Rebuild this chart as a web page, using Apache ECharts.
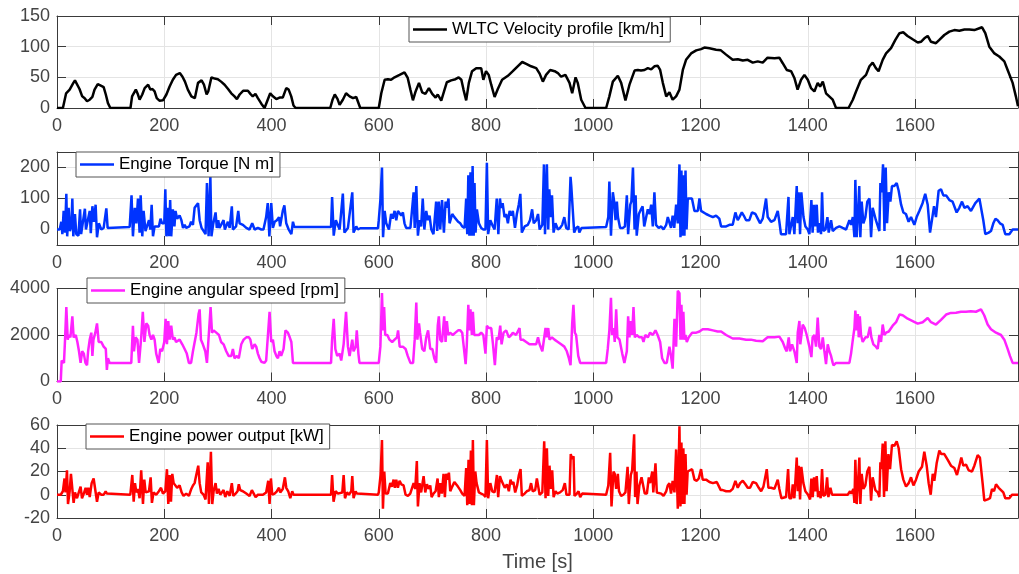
<!DOCTYPE html>
<html>
<head>
<meta charset="utf-8">
<title>WLTC engine signals</title>
<script src="https://cdn.jsdelivr.net/npm/echarts@6/dist/echarts.min.js"></script>
<style>
html,body{margin:0;padding:0;background:#fff;}
#main{width:1019px;height:574px;}
</style>
</head>
<body>
<div id="main"></div>
<script>
// time axis
var tMax = 1792;
var xTicks = [0,200,400,600,800,1000,1200,1400,1600];

// y ticks per panel
var velTicks = [0,50,100,150];
var torTicks = [0,100,200];
var rpmTicks = [0,2000,4000];
var powTicks = [-20,0,20,40,60];

// [t (s), value]
var velocity = [
[0,0],[11,0],[17,24],[23.6,30],[30,40],[33.5,45],[37,43],[42,31],[47,19],[51.6,16],[56,11],[61,13.5],[66,18],[70,30],[76,39],[82.6,36],[87,34],[91,22],[95,8],[99.4,0],
[137,0],[140,19],[147,30],[151,22],[154,13.5],[159,22],[163.5,32.5],[170,38],[174,30],[178,31],[182,27],[186,16],[191,12],[197.6,12.5],[204,22],[210,35],[216,46],[222,54],[229,57],[234,51],[238.6,43],[244,30],[250.6,19],[257,16],[263,41],[269.6,45],[274,38],[279,22],[282,27],[288,50],[294,48],[300,47],[306,43],[312.5,38],[319,31],[325,24],[331,19],[335.5,14.6],[340.5,22],[347,28],[356,28],[360.6,23],[365,19],[370,23],[374.6,16],[381,7],[387,0],[390,2.7],[397.6,24],[402.6,19],[409,14.6],[415,17],[421,17],[427.5,32.5],[432,30],[436.8,19],[441,4],[445,0],
[509.5,0],[514,14],[518,22],[523,15],[527,5],[533,13.5],[539,24],[545.6,19],[552,16],[558,18],[561,16],[565.5,0],
[600,0],[604.7,24],[611,46],[617,47],[623,46],[629.5,50],[638.8,54],[648,58],[654,49],[659,30],[663.7,12.5],[668.7,27],[675,41],[681,25.5],[687,23],[693.5,32.5],[699.7,23],[706,17],[710,22],[716.5,12],[722.7,30],[727,42],[735,45],[743,47],[749,50],[754,46],[758,30],[763,12.5],[768,41],[774,60],[781.7,65],[791,65],[795,46],[800,60],[805,54],[809.7,38],[816,18],[822,31],[830,46],[840.8,52.5],[850,60],[859,68],[867.5,75],[875,72],[884,68],[893.6,65],[900,56],[906,43],[912,54],[919.7,62],[928,60],[934,57],[940,51],[948,54],[955.7,41],[960.7,24],[967,50],[971,41],[977.5,13.5],[985.5,0],
[1024,0],[1030,19],[1036.5,43],[1045.8,52.5],[1052,41],[1060,12.5],[1067.5,38],[1077,61],[1083,62],[1089,61],[1095.5,62],[1101.7,65],[1108,63],[1114,68],[1120,69],[1124.7,62],[1129.7,41],[1136,19],[1142,25.5],[1148,13.5],[1154.5,19],[1160.7,30],[1167,62],[1173,78.5],[1182.4,89],[1192,94],[1201,96],[1207.3,98.5],[1216.6,97.5],[1229,95],[1238,94],[1247.7,87],[1260,78.5],[1269.4,79.6],[1278.8,77.4],[1288,78.5],[1297.4,74],[1306.7,76],[1316,74],[1325,82],[1338,81],[1347,82],[1353.3,73],[1360.7,62],[1369,60],[1375,49],[1381,30],[1387.5,46],[1393.7,54],[1400,46],[1406,32.5],[1412.3,27],[1418.5,41],[1423,35],[1428,43],[1434,24],[1440,19],[1446.5,13.5],[1452.7,0],
[1476,0],[1484,13.5],[1490,27],[1499,46],[1508.6,54],[1515,68],[1521,74],[1527,65],[1532,60],[1539.7,78.5],[1546,89],[1555.2,97.5],[1563.3,111],[1571,122],[1578,123.5],[1586,117.5],[1595.6,112],[1605,106.7],[1611,108],[1617.4,113.7],[1623.6,117.5],[1629.8,108],[1639,105.6],[1645.3,111],[1654.6,119],[1664,124.5],[1673.3,127],[1682.6,126],[1692,128],[1701.3,128],[1710.6,127],[1720,130],[1725,131.6],[1731,122],[1738.5,100],[1748,89],[1757,84],[1766.5,76],[1772.7,62],[1782,41],[1788,19],[1792,3]
];

var torque = [
[0,0],[5,0],[8,25],[10,-15],[12.4,60],[15,-10],[17.4,115],[19,-22],[21.7,70],[24,-5],[26.7,10],[28.6,100],[30.4,-22],[33.5,50],[36,-15],[40,-20],[43,65],[45,-15],[48.5,-12],[52,67],[54,0],[57,5],[61,60],[63,-12],[66,75],[69,25],[72,80],[74.6,-25],[78,20],[82.6,0],[87,5],[92,68],[94.4,5],[98,8],
[135.5,8],[139,110],[141.6,-22],[145,70],[148,20],[151,100],[154,-10],[156,110],[159,-22],[161.5,60],[165,-5],[168,0],[171.5,30],[174,0],[176.5,80],[179,-22],[182,10],[185,5],[190,10],[193,35],[196,20],[200,20],[202,130],[204,-22],[207,70],[209,-22],[211,95],[213,-22],[216,65],[219,10],[221,60],[224,35],[228.6,45],[232,30],[235,5],[238,15],[241,5],[247,10],[250,25],[253.5,15],[256.6,70],[260,75],[263,85],[266,30],[269.6,5],[273,0],[277,-15],[279.6,150],[282.7,-22],[286,170],[288,-22],[291,15],[295.7,55],[298,5],[300.7,30],[303,5],[306,15],[310.6,30],[313,0],[315.6,5],[318.7,25],[322,5],[326,75],[328,0],[334,10],[338,60],[340.5,20],[346.7,15],[353,5],[359,0],[364,20],[368.5,0],[374.6,5],[381,0],[385,0],[390,40],[393,85],[396,-22],[399.5,85],[402.6,5],[406,25],[410,30],[414,40],[416,10],[421,60],[424,78],[427.5,20],[432,0],[437,-15],[440,25],[442.5,8],
[511,8],[513,105],[516,-20],[520,30],[527,0],[533,116],[536,-10],[542.5,5],[550.6,120],[553,-10],[558,10],[561,0],[565.5,4],
[598.5,4],[600,30],[603,95],[606,200],[608,-25],[611,60],[614,20],[619,0],[623,50],[626,35],[629.5,60],[632.6,30],[635.7,60],[639,65],[642,45],[645,55],[648,20],[651,5],[654,0],[659,5],[662,0],[665,120],[667,5],[670,140],[673,-20],[676,30],[679,10],[682,100],[685,0],[688.5,60],[691.6,30],[694.7,45],[698,0],[702,-15],[707,90],[709,-5],[712,90],[714.6,0],[718,95],[721.5,-10],[724.6,90],[727,70],[730,100],[732,20],[737,50],[741,40],[744.5,45],[748,25],[752,20],[755.6,10],[760,5],[763,100],[765,-15],[767,175],[769,-20],[771,185],[773,-20],[775,205],[777,-20],[778.6,150],[780.5,-10],[783,65],[786.7,20],[791,5],[795,0],[799,0],[801.6,215],[804,-15],[808,30],[813,10],[816,0],[820,100],[823,-15],[826,100],[828,70],[831,85],[834.5,40],[837.6,50],[840.8,20],[844,60],[847,45],[850,60],[854,5],[857.5,50],[861,80],[864,115],[866.8,-10],[872,10],[878,15],[882,30],[886,65],[889,20],[893.6,30],[897,50],[900,0],[905,15],[908,210],[910,-15],[913.5,210],[916,0],[918,130],[921,40],[923,110],[926,-10],[929.6,20],[934,0],[938,5],[942,15],[946,40],[949.5,5],[954,0],[957.6,170],[959,140],[962,145],[964.4,-10],[968,5],[972,10],[974,-10],[978,5],[980,8],
[1024,8],[1028,40],[1030,155],[1033,-20],[1036.5,120],[1039,90],[1041.5,30],[1044,90],[1046,40],[1050,5],[1055,5],[1059,10],[1062.6,110],[1065,-15],[1069,80],[1071,90],[1074,200],[1077,0],[1079,110],[1081,-20],[1085,50],[1089,65],[1092,75],[1095,10],[1098.6,5],[1101.7,65],[1105,50],[1108,80],[1111,10],[1114,120],[1117,15],[1122,5],[1126.6,10],[1131,0],[1136,15],[1139,40],[1142,35],[1145,5],[1148,45],[1151,5],[1154.5,80],[1157.6,20],
[1160.7,210],[1162.6,-25],[1164.4,190],[1166.3,-20],[1168,175],[1170,-20],[1172,190],[1174,0],[1176.2,100],[1179.3,105],[1184,100],[1188.7,60],[1192,55],[1195,60],[1198,100],[1201,60],[1204,55],[1210.4,50],[1216.6,45],[1223,40],[1229,45],[1232,40],[1235,35],[1238.4,10],[1241.5,15],[1247.7,10],[1254,15],[1260,15],[1265,55],[1269.4,30],[1272.5,40],[1277,55],[1280.6,45],[1285,30],[1291,30],[1296,55],[1302.4,50],[1306.7,35],[1311,20],[1316,35],[1319,40],[1322.2,100],[1325.3,40],[1331.5,25],[1337.8,30],[1344,60],[1347,25],[1350,-15],[1359.5,-15],[1364,105],[1365.7,-15],[1369,-15],[1372,40],[1375,-15],[1379.4,140],[1381.3,20],[1383,120],[1385.6,-15],[1388,120],[1392,40],[1395.6,10],[1400,0],[1403,-15],[1406.7,95],[1409,-10],[1411.7,80],[1414,10],[1416.7,80],[1419,-10],[1421.6,20],[1424.7,-15],[1426.6,120],[1429,-5],[1433,0],[1436.6,40],[1439,-10],[1443.4,30],[1446.5,-5],[1452.7,5],[1459,10],[1465,5],[1471.4,0],[1477.6,30],[1480.7,15],[1484,40],[1487,-25],[1488.7,160],[1491.2,-25],[1493.7,50],[1496,140],[1498,-25],[1500.5,90],[1503.7,20],[1507.4,40],[1511,90],[1515,100],[1518,-25],[1521,70],[1527,30],[1533.5,-5],[1535.4,150],[1538,120],[1540.3,210],[1543,-5],[1545.3,200],[1547.8,20],[1551,120],[1554,90],[1557,140],[1561.4,140],[1565.8,150],[1569.5,125],[1574,80],[1578.2,55],[1583,50],[1588,25],[1592.5,40],[1598.7,15],[1603,40],[1608,60],[1614,85],[1619,115],[1623.6,80],[1628,-10],[1631.7,-15],[1635.4,75],[1639,40],[1644,125],[1648.4,130],[1652.8,110],[1658,110],[1664,95],[1670,90],[1677.6,55],[1682.6,70],[1687.6,90],[1692,70],[1698,75],[1704.3,60],[1712.4,85],[1720,100],[1723.6,95],[1727.3,30],[1731,-15],[1737.3,-10],[1741.6,-5],[1746,20],[1750,35],[1754,30],[1758.4,20],[1763.4,15],[1768.3,-15],[1775.8,-15],[1779,-10],[1782,0],[1792,0]
];

var speed = [
[0,0],[7,0],[8.7,900],[11,900],[13,800],[15,1800],[17.4,3200],[20,1800],[22,2000],[25,1900],[28.6,2800],[31,1900],[35,2000],[38,1700],[41,1300],[44,800],[47,1300],[50,1200],[53,800],[56,700],[58,1300],[61,1800],[64,2100],[66,1100],[68,1800],[71.5,2100],[74.6,2500],[77.7,1700],[82.6,1700],[87,1500],[91,1400],[93,500],[95,1000],[98,800],
[138.5,800],[141.6,2400],[143.5,1300],[146.6,1900],[150,1800],[153,800],[157,1900],[160,3000],[163,1700],[166.5,2500],[170,2400],[172.7,2000],[176,1800],[179,2000],[182,1800],[185,1200],[189.5,800],[192.6,1400],[196,1300],[200,1700],[202.5,2700],[205,1600],[207.5,2600],[210,1800],[213,2400],[216,1800],[219,1900],[222,1700],[228.6,1800],[233.6,1600],[238,1400],[242,1200],[246,800],[250,800],[253.5,1300],[260,2100],[264,2900],[266,3100],[268.4,1800],[272,1600],[276.5,1300],[279.6,800],[283,2000],[286.4,3200],[289,2100],[292,2200],[297,2100],[302,2000],[306,1700],[310.6,1600],[315.6,1300],[320,1100],[325,1100],[328,1400],[331,1000],[335.5,1100],[339,1000],[343.6,1600],[348,1800],[353,1900],[358,1900],[360.6,1800],[364,1400],[368.5,1600],[371.5,1500],[374.6,1200],[377.8,1000],[381,850],[387,800],[390,900],[396.4,3000],[399.5,1700],[402.6,1800],[405.7,1300],[409,1100],[412,1000],[415,1300],[418,1100],[422.5,1400],[426,2200],[430.6,2100],[434,1900],[437,1700],[440,800],
[511,800],[513,1800],[516,2700],[519,1400],[522.5,1100],[527,1200],[530,900],[534.5,1600],[539,3000],[542.5,1500],[545.6,1100],[550.6,1800],[553,1300],[557,1500],[559,2200],[562,1200],[564,800],
[600,800],[603,1500],[606,3800],[608,2200],[610,3200],[612,2000],[616,2000],[620,1800],[625,1700],[629.5,1800],[634,1900],[636,2200],[639,1500],[645,1500],[650,1400],[654,1100],[659,800],[664,800],[667,1800],[670,3400],[672,1800],[675,2500],[677,2100],[681,1400],[685,1300],[688.5,1900],[692,2200],[696,1400],[700,1400],[703.5,1000],[707,800],[710,2400],[712,2800],[714.6,1800],[718,1700],[722,2800],[724.6,1700],[727,2600],[729.5,2000],[733,2100],[738,2000],[743,2100],[748,2200],[752,2200],[755.6,2100],[758,1600],[762,750],[764,1500],[767,3300],[769,2200],[771,3100],[773.6,2000],[775.5,3000],[778,2000],[781.7,2000],[786.7,2000],[791,2100],[795,2000],[799,1200],[801.6,2400],[805,2300],[809.7,2300],[813,1600],[816.5,700],[820,1900],[823.4,1800],[826.5,2400],[829,1600],[832.7,2100],[837.6,2200],[842.6,1900],[847,2000],[850,2100],[856,2000],[862.5,2300],[864.4,1800],[868.7,1800],[875,1700],[881,1600],[887,1600],[893.6,1600],[897,1900],[900,1600],[905,1300],[907,1300],[911,2300],[913.5,1900],[916,2300],[918.4,1800],[923,1900],[927.7,1800],[934,1700],[940,1600],[946,1500],[950.7,1300],[954.5,1000],[957.6,700],[960.7,2500],[963,3300],[965.6,2100],[968,2000],[972,1100],[975.6,800],
[1024,800],[1027,1400],[1030,2200],[1033,3600],[1035,2000],[1038,2300],[1040,1700],[1042.7,3100],[1045,1900],[1049,1800],[1054,1200],[1058,800],[1062.6,1300],[1065,2800],[1067.5,1900],[1070,2600],[1072.5,2000],[1075,3200],[1077.5,1900],[1081,2000],[1086,1900],[1091,1900],[1093.6,1700],[1097,2000],[1101.7,1900],[1106,2100],[1111,2000],[1116,2200],[1120,2000],[1124.7,1700],[1128.4,1000],[1132.8,800],[1137,800],[1142,1500],[1145,1100],[1148,550],[1151.4,2700],[1154.5,1500],[1157.6,3900],
[1160.7,3800],[1162.6,1800],[1164.4,3300],[1166.3,1800],[1168,3000],[1170,1800],[1172,2000],[1174.4,1700],[1178,1900],[1184.3,2100],[1192,2100],[1198,2150],[1204,2250],[1213.5,2250],[1223,2200],[1232,2150],[1238.4,2150],[1247.7,2000],[1260,1850],[1272.5,1850],[1285,1800],[1294,1800],[1303.6,1750],[1316,1730],[1325,1900],[1338,1900],[1347,1930],[1353.3,1700],[1358.3,1400],[1360.7,1300],[1364.5,1900],[1367,1300],[1370.7,1600],[1375,1300],[1379.4,800],[1381.3,2100],[1384.4,2600],[1386,1600],[1390.6,2450],[1394.3,2300],[1398,2000],[1403,1500],[1406.7,1050],[1409,1900],[1412.3,2000],[1415.4,1500],[1418.5,2750],[1421.6,1500],[1424.7,1400],[1428,1900],[1431,1300],[1434,750],[1437.2,1600],[1440.3,1300],[1443.4,1100],[1446.5,800],[1448,700],[1452.7,800],[1477.6,800],[1480.7,1200],[1484,1800],[1487,2300],[1488.7,3050],[1491.2,2200],[1493.4,2900],[1495,1900],[1497,2800],[1499.3,2000],[1502.4,1700],[1507.4,1900],[1511.7,1900],[1516,2350],[1518.6,1900],[1522.3,1600],[1527,1500],[1530.4,1400],[1533.5,2000],[1536.6,1700],[1539.7,2450],[1542.8,2000],[1546,2100],[1551,2150],[1558.3,2400],[1564.6,2550],[1571,2880],[1577,2850],[1586.3,2700],[1595.6,2600],[1605,2490],[1614.3,2550],[1623.6,2730],[1629.8,2550],[1639,2450],[1648.4,2650],[1658,2880],[1667,2950],[1676.4,2960],[1685.7,3000],[1695,3000],[1704,3020],[1713.6,3000],[1723,3100],[1729,2850],[1735.4,2450],[1741.6,2250],[1751,2100],[1760.3,2000],[1766.5,1800],[1772.7,1400],[1777,1100],[1782,800],[1792,800]
];

var power = [
[0,0],[7,0],[11,3],[14,14],[16,2],[18.6,21],[20.5,-8],[23.6,3],[26,18],[28.6,19],[31,-7],[33.5,2],[37.3,-3],[41,-2],[44,7],[46.6,-3],[50,1],[53.4,6],[56,0],[58.4,6],[61,-2],[64.6,10],[68.3,14],[71.5,14],[74.6,-6],[77.7,2],[82.6,0],[87,0],[90.7,3],[93,1],
[136.7,0],[138.6,1],[140.4,17],[143,-6],[145.4,10],[148,2],[151,5],[154,-3],[157,21],[160.3,-8],[162.8,13],[165.3,2],[167.8,3],[171.5,3],[174.6,15],[177,-7],[180,2],[185,0],[190,3],[194,6],[197.6,1],[202,3],[205,22],[207.5,-8],[210,17],[212.5,-6],[215,18],[217.5,10],[221,11],[224,6],[228.6,8],[232.4,2],[236,-1],[241,1],[246,-1],[250.4,5],[253.5,8],[256.6,10],[259.7,17],[263.4,25],[266,10],[269,2],[273.4,0],[277,-4],[281,28],[283.3,-8],[287,37],[289.5,-8],[292,3],[295.7,10],[298.2,1],[301.3,5],[304.4,0],[308,1],[310.6,4],[313.8,-2],[317.6,3],[322,-1],[326,10],[328.6,-1],[333,1],[336.7,3],[339,9],[341.6,4],[346.6,3],[353,1],[359,-1],[363.4,4],[366.6,4],[370.3,-2],[374.6,0],[384,0],[390,2],[393.9,12],[396.4,-8],[398.9,14],[401.4,0],[405.7,1],[410,3],[414,6],[416.3,2],[421,5],[425,15],[427.5,6],[431.2,3],[435,-3],[438.6,3],[441,0],
[511,0],[513,17],[515.7,-6],[519.4,3],[523.8,1],[527,0],[532,2],[534.5,17],[537,-3],[540.7,2],[544.4,0],[548.7,3],[550.6,16],[553,-3],[556.8,3],[559.3,1],[563,0],
[598.5,0],[600,2],[603.4,17],[606,47],[607.8,-12],[610.3,20],[612.7,1],[617,1],[621.4,10],[624.5,7],[627.7,13],[630,6],[632.6,13],[635.7,6],[638.8,12],[642,9],[646.3,8],[650,0],[654.4,-1],[658.7,1],[662.4,1],[665,10],[668,5],[671,29],[673,-10],[676,10],[679,2],[683.6,16],[686.7,2],[689.8,9],[693,5],[696,8],[698.5,-2],[702,1],[706,3],[709.7,14],[712,-2],[715,10],[717.7,1],[720.8,18],[723.3,-2],[725.8,18],[728.3,13],[730.8,19],[733.3,3],[737,7],[741,11],[744.5,10],[747.6,7],[752,4],[755.6,1],[760,-1],[763,23],[765,-9],[767.4,30],[769.3,-8],[771.8,38],[773.7,-9],[775.5,47],[777.4,-9],[780,20],[782.4,10],[786.7,2],[791,1],[795.4,0],[799,-2],[801.6,47],[804,-3],[808,10],[811.6,3],[816,2],[820.3,17],[822.7,-2],[826,16],[829,12],[831.4,13],[835,6],[839,9],[842.6,3],[845.7,13],[848,9],[851,11],[854.4,2],[858,8],[861.3,17],[864.4,22],[866.8,-1],[872,1],[876,3],[881,4],[884,10],[887,3],[891.7,4],[894.8,14],[898,13],[900,0],[905,2],[908.5,46],[911,-3],[913.5,40],[916,-1],[918.4,25],[921,5],[923.4,21],[926,-2],[929.6,3],[933,1],[938,2],[943,4],[947,10],[950,0],[955.7,0],[958,35],[960,31],[963.2,33],[965,-1],[969.4,1],[972.5,3],[975.6,-2],[979.3,1],
[1024,0],[1028,8],[1031.5,36],[1034,-10],[1037.7,20],[1040,18],[1042.7,5],[1045.8,18],[1048,3],[1052,-1],[1056,0],[1060,2],[1064,24],[1066.3,-8],[1070,17],[1072.5,21],[1076.2,52],[1078,-2],[1080.6,20],[1082.5,-8],[1086,8],[1090,15],[1093.6,15],[1096,1],[1100,1],[1103.6,15],[1106,10],[1110,20],[1112,2],[1116,27],[1118.5,2],[1122,1],[1126.6,1],[1131,-1],[1136,3],[1139,8],[1142,10],[1145,1],[1148,12],[1151.4,2],[1154.5,39],[1157.6,-12],
[1160.7,59],[1162.6,-10],[1164.4,45],[1166.3,-8],[1168,40],[1170,-8],[1172,35],[1174,0],[1176,20],[1179.3,20],[1184.3,22],[1188.7,13],[1193,12],[1196.7,14],[1201,22],[1204,13],[1210.4,13],[1216.6,11],[1223,10],[1230.3,11],[1234,11],[1237.7,4],[1241.5,4],[1247.7,3],[1255.1,3],[1260,5],[1265,12],[1269.4,6],[1273.8,10],[1278.8,12],[1283.7,9],[1288,6],[1292.4,6],[1297.4,11],[1303.6,10],[1308.6,6],[1313,3],[1317.3,7],[1320,8],[1323.5,22],[1326.6,6],[1331.5,6],[1337.8,5],[1344,13],[1347,5],[1350.8,-3],[1359.5,-2],[1363.3,22],[1365.7,-3],[1369.5,-3],[1372,9],[1375,-3],[1379.4,32],[1381.3,3],[1383,25],[1385.6,-4],[1388,24],[1391.8,10],[1395.5,3],[1400.5,0],[1404.3,-4],[1406.7,14],[1409.2,-2],[1411.7,15],[1414.2,3],[1416.7,16],[1419.2,-2],[1421.6,3],[1424,-3],[1426.6,22],[1429,-1],[1433,0],[1436,15],[1438.4,-2],[1442.2,6],[1445.3,0],[1474.5,0],[1478.8,3],[1481.3,1],[1485,5],[1487,-7],[1488.7,30],[1491.2,-8],[1493.7,10],[1496.2,32],[1498,-8],[1500.5,18],[1503.7,5],[1507.4,8],[1511,20],[1514.8,24],[1518,-5],[1521,15],[1526,4],[1530.4,2],[1533.5,-2],[1535.4,28],[1537.2,22],[1539.7,44],[1542.2,-2],[1544.7,46],[1547,3],[1550.3,35],[1553.4,22],[1557,43],[1561.4,42],[1565.8,46],[1569.5,40],[1574,22],[1578.2,13],[1583.2,7],[1588.2,10],[1592.5,15],[1597,8],[1601.8,13],[1606.8,20],[1613,24],[1617.3,37],[1621.7,25],[1625.4,10],[1629.2,0],[1633,18],[1636,12],[1640.3,27],[1645.3,38],[1649,35],[1654.6,35],[1661,30],[1667,25],[1673.3,23],[1678.2,17],[1682.6,25],[1686.3,32],[1690,25],[1695,26],[1700,21],[1706.2,20],[1710.6,25],[1716.8,34],[1721,32],[1726,10],[1729.2,-5],[1735.4,-4],[1739.8,-3],[1743.5,5],[1747.2,3],[1751,9],[1756,6],[1760.3,4],[1764.6,2],[1768.3,-3],[1775.8,-3],[1780.8,0],[1792,0]
];

var FONT = "'Liberation Sans', Arial, sans-serif";
var AX = '#3a3a3a';

var panels = [
  {name:'WLTC Velocity profile [km/h]', data:velocity, color:'#000000', min:0, max:150, ticks:velTicks, top:16, height:92, lgLeft:409, lgTop:17},
  {name:'Engine Torque [N m]', data:torque, color:'#0033ff', min:-50, max:250, ticks:torTicks, top:152, height:93, lgLeft:76, lgTop:152},
  {name:'Engine angular speed [rpm]', data:speed, color:'#ff22ff', min:0, max:4000, ticks:rpmTicks, top:288.5, height:93, lgLeft:87, lgTop:278},
  {name:'Engine power output [kW]', data:power, color:'#ff0000', min:-20, max:60, ticks:powTicks, top:425, height:93, lgLeft:86, lgTop:424}
];

function plain(v){ return String(v); }

var grids = [], xAxes = [], yAxes = [], series = [], legends = [];
panels.forEach(function(p, i){
  grids.push({left:57, right:1, top:p.top, height:p.height});
  var line = {show:true, onZero:false, lineStyle:{color:AX, width:1}};
  xAxes.push({
    type:'value', gridIndex:i, min:0, max:tMax,
    axisLine:line,
    axisTick:{inside:true, length:9, customValues:xTicks, lineStyle:{color:AX}},
    axisLabel:{customValues:xTicks, formatter:plain, margin:9, fontSize:18, color:'#444', fontFamily:FONT},
    splitLine:{show:true, lineStyle:{color:'#e4e4e4', width:1}},
    name: i == 3 ? 'Time [s]' : '',
    nameLocation:'middle', nameGap:34,
    nameTextStyle:{fontSize:20, color:'#444', fontFamily:FONT}
  });
  xAxes.push({
    type:'value', gridIndex:i, position:'top', min:0, max:tMax,
    axisLine:line,
    axisTick:{inside:true, length:9, customValues:xTicks, lineStyle:{color:AX}},
    axisLabel:{show:false}, splitLine:{show:false}
  });
  yAxes.push({
    type:'value', gridIndex:i, min:p.min, max:p.max,
    axisLine:line,
    axisTick:{show:true, inside:true, length:9, customValues:p.ticks, lineStyle:{color:AX}},
    axisLabel:{customValues:p.ticks, formatter:plain, margin:7, fontSize:18, color:'#444', fontFamily:FONT},
    splitLine:{show:true, lineStyle:{color:'#e4e4e4', width:1}}
  });
  yAxes.push({
    type:'value', gridIndex:i, position:'right', min:p.min, max:p.max,
    axisLine:line,
    axisTick:{show:true, inside:true, length:9, customValues:p.ticks, lineStyle:{color:AX}},
    axisLabel:{show:false}, splitLine:{show:false}
  });
  series.push({
    type:'line', name:p.name, xAxisIndex:2*i, yAxisIndex:2*i,
    data:p.data, symbol:'none', clip:true,
    lineStyle:{color:p.color, width:2.5},
    itemStyle:{color:p.color}
  });
  legends.push({
    data:[p.name], left:p.lgLeft, top:p.lgTop, selectedMode:false,
    icon:'rect', itemWidth:34, itemHeight:2.5, itemGap:0,
    backgroundColor:'#fff', borderColor:'#555', borderWidth:1,
    padding:[4,6,4,4],
    textStyle:{fontSize:17, color:'#000', fontFamily:FONT}
  });
});

var myChart = echarts.init(document.getElementById('main'));
myChart.setOption({
  animation:false,
  backgroundColor:'#fff',
  grid:grids, xAxis:xAxes, yAxis:yAxes, series:series, legend:legends
});
</script>
</body>
</html>
